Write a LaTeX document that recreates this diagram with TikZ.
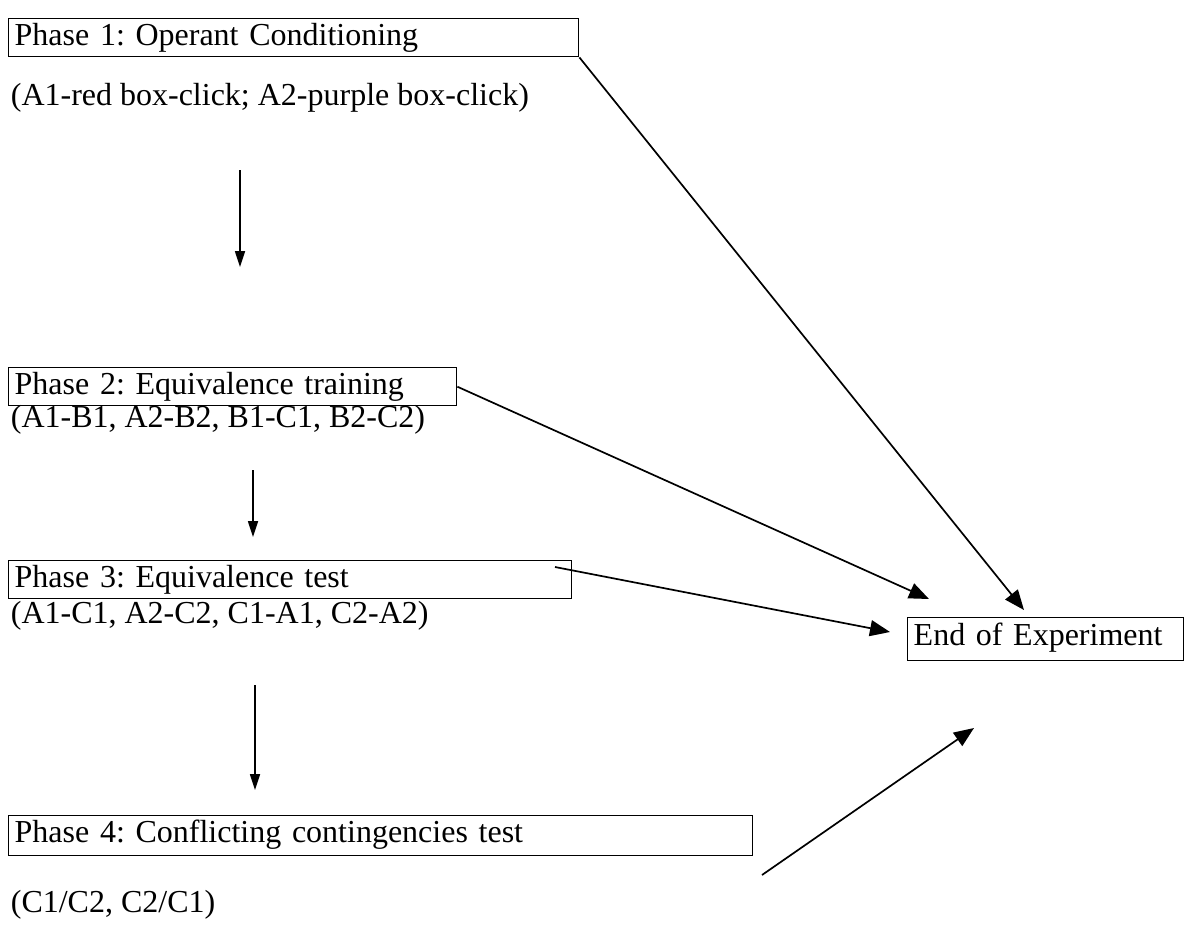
\documentclass[tikz,border=0pt]{standalone}
\usepackage{fontspec}
\setmainfont{Liberation Serif}
\usetikzlibrary{arrows.meta}
\frenchspacing
\begin{document}
\begin{tikzpicture}[x=0.5pt,y=-0.5pt,line width=0.85pt,
    every node/.style={font=\fontsize{16}{19}\selectfont},
    phasebox/.style={draw,line width=0.7pt,anchor=north west,inner xsep=3pt,inner ysep=0pt,
        align=left,text height=13.5pt,text depth=5.5pt},
    phaselabel/.style={anchor=west,inner sep=0pt},
    down/.style={-{Triangle[length=8pt,width=5pt]}},
    toend/.style={-{Triangle[length=10pt,width=8pt]}}]
    \useasboundingbox (0,0) rectangle (1195,938);
    \node[phasebox,text width=279pt] (p1) at (8,18) {Phase 1: Operant Conditioning};
    \node[phaselabel] (l1) at (10,98) {(A1-red box-click; A2-purple box-click)};
    \node[phasebox,text width=218pt] (p2) at (8,367) {Phase 2: Equivalence training};
    \node[phaselabel] (l2) at (10,420) {(A1-B1, A2-B2, B1-C1, B2-C2)};
    \node[phasebox,text width=275.5pt] (p3) at (8,560) {Phase 3: Equivalence test};
    \node[phaselabel] (l3) at (10,616) {(A1-C1, A2-C2, C1-A1, C2-A2)};
    \node[phasebox,text width=366pt,text depth=6.5pt] (p4) at (8,815) {Phase 4: Conflicting contingencies test};
    \node[phaselabel] (l4) at (10,905) {(C1/C2, C2/C1)};
    \node[phasebox,text width=132pt,text height=14pt,text depth=7.5pt] (end) at (907,617) {End of Experiment};
    \coordinate (a1) at (240,170);
    \coordinate (b1) at (240,267);
    \coordinate (a2) at (253,470);
    \coordinate (b2) at (253,537);
    \coordinate (a3) at (255,685);
    \coordinate (b3) at (255,790);
    \coordinate (e1) at (1024,610);
    \coordinate (e2) at (929,599);
    \coordinate (s3) at (555,567);
    \coordinate (e3) at (890,632);
    \coordinate (s4) at (762,875);
    \coordinate (e4) at (974,728);
    \draw[down] (a1) -- (b1);
    \draw[down] (a2) -- (b2);
    \draw[down] (a3) -- (b3);
    \draw[toend] (p1.south east) -- (e1);
    \draw[toend] (p2.east) -- (e2);
    \draw[toend] (s3) -- (e3);
    \draw[toend] (s4) -- (e4);
\end{tikzpicture}
\end{document}
